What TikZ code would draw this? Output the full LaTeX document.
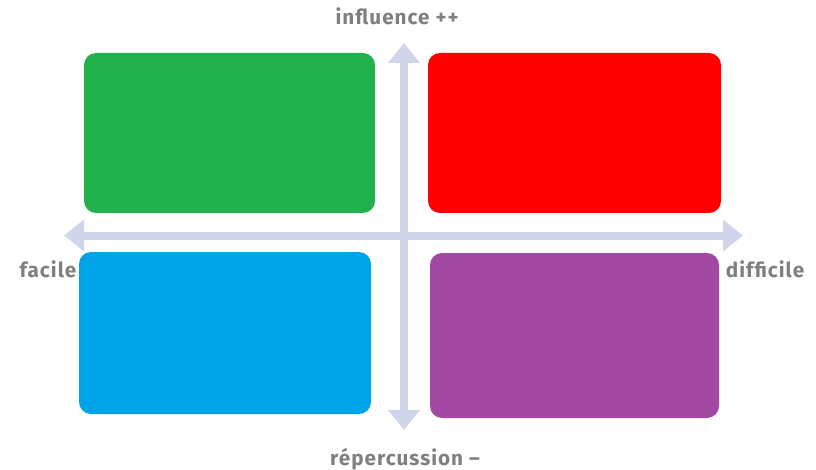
\documentclass[tikz,border=0pt]{standalone}
\usepackage{fontspec}
\setmainfont[LetterSpace=5]{Fira Sans}
\usetikzlibrary{arrows.meta}
\definecolor{paintgreen}{HTML}{22B14C}
\definecolor{paintred}{HTML}{FF0000}
\definecolor{paintblue}{HTML}{00A2E8}
\definecolor{paintpurple}{HTML}{A349A4}
\definecolor{axisblue}{HTML}{D0D5EA}
\definecolor{labelgray}{HTML}{7F7F7F}
\begin{document}
\begin{tikzpicture}
  [x=0.75pt,y=-0.75pt,every node/.style={inner sep=0pt}]
  \tikzstyle{quad} = [rounded corners=9pt]
  \tikzstyle{axis} = [axisblue,line width=6pt,{Triangle[length=15pt,width=23pt]}-{Triangle[length=15pt,width=23pt]}]
  \tikzstyle{axislabel} = [anchor=base,text=labelgray,font=\bfseries\fontsize{15.5}{17}\selectfont]
  \useasboundingbox (0,0) rectangle (816,470);
  \foreach \name/\col/\cx/\cy/\w/\h in {green/paintgreen/229.5/133/218.25/120,
      red/paintred/574.5/133/219.75/120,
      blue/paintblue/225/333/219/121.5,
      purple/paintpurple/574.5/335.5/216.75/123.75}
    \node[quad,fill=\col,minimum width=\w pt,minimum height=\h pt] (\name) at (\cx,\cy) {};
  \coordinate (top) at (404,43);
  \coordinate (bottom) at (404,430);
  \coordinate (left) at (64,235.5);
  \coordinate (right) at (743,235.5);
  \draw[axis] (top) -- (bottom);
  \draw[axis] (left) -- (right);
  \node[axislabel] (influence) at (397,25) {influence ++};
  \node[axislabel] (repercussion) at (405,465) {répercussion –};
  \node[axislabel] (facile) at (48,277) {facile};
  \node[axislabel] (difficile) at (765,277) {difficile};
\end{tikzpicture}
\end{document}
